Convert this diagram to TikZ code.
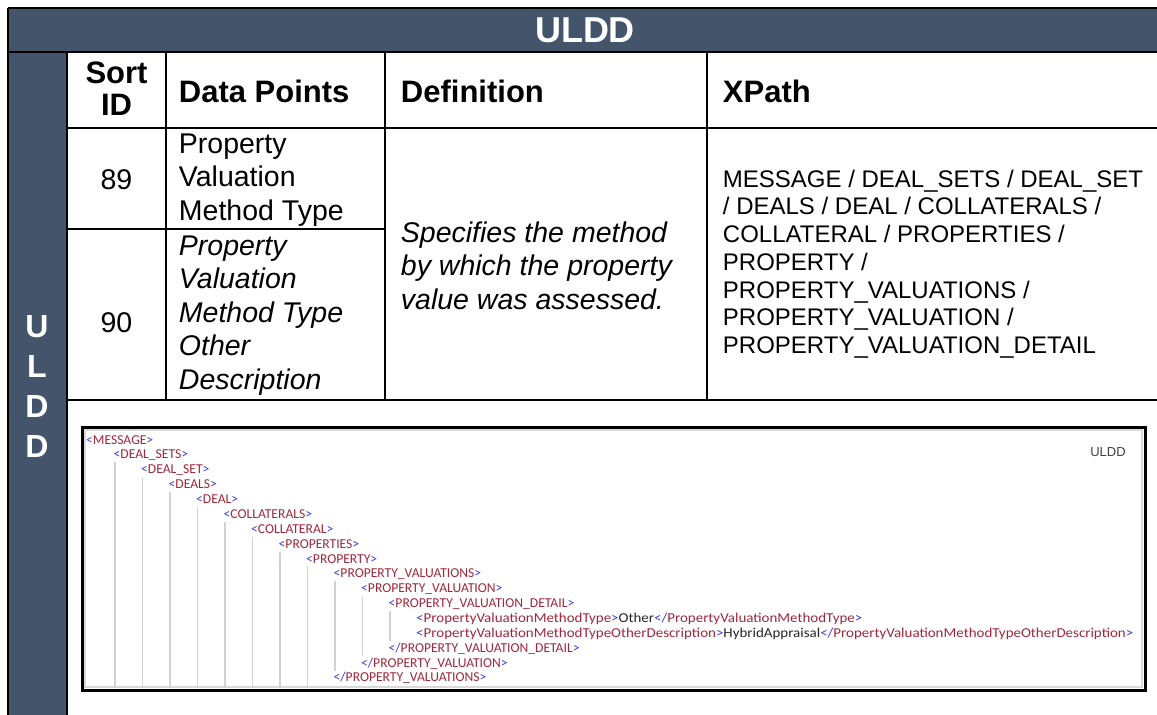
\documentclass[tikz,border=0pt]{standalone}
\usepackage{fontspec}
\setmainfont{Liberation Sans}
\newfontfamily\xmlfont{Carlito}
\newfontfamily\xmlwide{Carlito}[FakeStretch=1.1]
\definecolor{bandgray}{HTML}{44546A}
\definecolor{xmlblue}{HTML}{3B3BF0}
\definecolor{xmlred}{HTML}{A0283C}
\definecolor{guidegray}{HTML}{D2D2D2}
\newcommand{\xopen}[1]{\textcolor{xmlblue}{<}\textcolor{xmlred}{#1}\textcolor{xmlblue}{>}}
\newcommand{\xclose}[1]{\textcolor{xmlblue}{</}\textcolor{xmlred}{#1}\textcolor{xmlblue}{>}}
\tikzset{
  gridline/.style={line width=2pt},
  headcell/.style={anchor=west,inner sep=0.75pt,align=left,font=\bfseries\fontsize{31}{32}\selectfont},
  bodycell/.style={anchor=west,inner sep=0.75pt,align=left,font=\fontsize{28.5}{33.5}\selectfont},
  pathcell/.style={anchor=west,inner sep=0.75pt,align=left,font=\fontsize{24}{27.7}\selectfont},
  xmlline/.style={anchor=west,inner sep=0pt,font=\xmlfont\fontsize{13.6}{14}\selectfont},
  xmlwideline/.style={anchor=west,inner sep=0pt,font=\xmlwide\fontsize{13.6}{14}\selectfont},
  guide/.style={guidegray,line width=1.6pt}
}
\begin{document}
\begin{tikzpicture}[x=1pt,y=1pt,yscale=-1,xscale=1]
\useasboundingbox (0,0) rectangle (1157,715);
\clip (0,0) rectangle (1157,715);

%Bands
\fill[bandgray] (8,8) rectangle (1165,52);
\fill[bandgray] (8,52) rectangle (67,720);

%Straight Lines
\draw[gridline] (8,8) -- (1165,8);
\draw[gridline] (8,8) -- (8,720);
\draw[gridline] (8,52) -- (1165,52);
\draw[gridline] (67,52) -- (67,720);
\draw[gridline] (67,127.5) -- (1165,127.5);
\draw[gridline] (67,229) -- (385,229);
\draw[gridline] (67,400) -- (1165,400);
\draw[gridline] (166,52) -- (166,400);
\draw[gridline] (385,52) -- (385,400);
\draw[gridline] (707,52) -- (707,400);

% Text Node
\draw (585,30) node [inner sep=0.75pt] [font=\bfseries\fontsize{36}{40}\selectfont,text=white] (title) {ULDD};
% Text Node
\draw (37,386) node [inner sep=0.75pt] [align=center,font=\bfseries\fontsize{32}{40}\selectfont,text=white] (side) {U\\L\\D\\D};

% Text Node
\draw (116.5,89) node [inner sep=0.75pt] [align=center,font=\bfseries\fontsize{31}{32}\selectfont] (hsort) {Sort\\ID};
% Text Node
\draw (178,91) node [headcell] (hdata) {Data Points};
% Text Node
\draw (400,91) node [headcell] (hdef) {Definition};
% Text Node
\draw (722,91) node [headcell] (hxpath) {XPath};

% Text Node
\draw (116.5,180) node [inner sep=0.75pt] [font=\fontsize{28.5}{33.5}\selectfont] (id89) {89};
% Text Node
\draw (178,180) node [bodycell] (dp89) {Property\\Valuation\\Method Type};
% Text Node
\draw (116.5,323) node [inner sep=0.75pt] [font=\fontsize{28.5}{33.5}\selectfont] (id90) {90};
% Text Node
\draw (178,315.5) node [bodycell] [font=\itshape\fontsize{28.5}{33.5}\selectfont] (dp90) {Property\\Valuation\\Method Type\\Other\\Description};
% Text Node
\draw (400,265.5) node [bodycell] [font=\itshape\fontsize{28.5}{33.5}\selectfont] (defn) {Specifies the method\\by which the property\\value was assessed.};
% Text Node
\draw (722,264) node [pathcell] (xpath) {MESSAGE / DEAL\_SETS / DEAL\_SET\\/ DEALS / DEAL / COLLATERALS /\\COLLATERAL / PROPERTIES /\\PROPERTY /\\PROPERTY\_VALUATIONS /\\PROPERTY\_VALUATION /\\PROPERTY\_VALUATION\_DETAIL};

%Screenshot frame
\draw[fill=white,line width=3pt] (82,427) rectangle (1145,690);
\draw[gray!30,line width=2pt] (85,430) rectangle (1142,687);

% Text Node
\draw (1108,452) node [inner sep=0.75pt] [font=\fontsize{13}{15}\selectfont,text=black!75] (shotlabel) {ULDD};

%Guide Lines
\draw[guide] (115,462) -- (115,688);
\draw[guide] (142.5,477) -- (142.5,688);
\draw[guide] (170,492) -- (170,688);
\draw[guide] (197.5,507) -- (197.5,688);
\draw[guide] (225,522) -- (225,688);
\draw[guide] (252.5,537) -- (252.5,688);
\draw[guide] (280,552) -- (280,688);
\draw[guide] (307.5,566) -- (307.5,688);
\draw[guide] (335,581) -- (335,671);
\draw[guide] (362.5,596) -- (362.5,656);
\draw[guide] (390,611) -- (390,641);

% Text Node
\draw (86,440) node [xmlline] (msg) {\xopen{MESSAGE}};
% Text Node
\draw (113.5,455) node [xmlline] (dsets) {\xopen{DEAL\_SETS}};
% Text Node
\draw (141,470) node [xmlline] (dset) {\xopen{DEAL\_SET}};
% Text Node
\draw (168.5,484.5) node [xmlline] (deals) {\xopen{DEALS}};
% Text Node
\draw (196,499.5) node [xmlline] (deal) {\xopen{DEAL}};
% Text Node
\draw (223.5,514.5) node [xmlline] (colls) {\xopen{COLLATERALS}};
% Text Node
\draw (251,529) node [xmlline] (coll) {\xopen{COLLATERAL}};
% Text Node
\draw (278.5,544) node [xmlline] (props) {\xopen{PROPERTIES}};
% Text Node
\draw (306,559) node [xmlline] (prop) {\xopen{PROPERTY}};
% Text Node
\draw (333.5,574) node [xmlline] (pvals) {\xopen{PROPERTY\_VALUATIONS}};
% Text Node
\draw (361,589) node [xmlline] (pval) {\xopen{PROPERTY\_VALUATION}};
% Text Node
\draw (388.5,604) node [xmlline] (pvdet) {\xopen{PROPERTY\_VALUATION\_DETAIL}};
% Text Node
\draw (416,619) node [xmlwideline] (pvmt) {\xopen{PropertyValuationMethodType}\textcolor{black!85}{Other}\xclose{PropertyValuationMethodType}};
% Text Node
\draw (416,634) node [xmlwideline] (pvmtod) {\xopen{PropertyValuationMethodTypeOtherDescription}\textcolor{black!85}{HybridAppraisal}\xclose{PropertyValuationMethodTypeOtherDescription}};
% Text Node
\draw (388.5,648.5) node [xmlline] (pvdetend) {\xclose{PROPERTY\_VALUATION\_DETAIL}};
% Text Node
\draw (361,663.5) node [xmlline] (pvalend) {\xclose{PROPERTY\_VALUATION}};
% Text Node
\draw (333.5,678) node [xmlline] (pvalsend) {\xclose{PROPERTY\_VALUATIONS}};

\end{tikzpicture}
\end{document}
